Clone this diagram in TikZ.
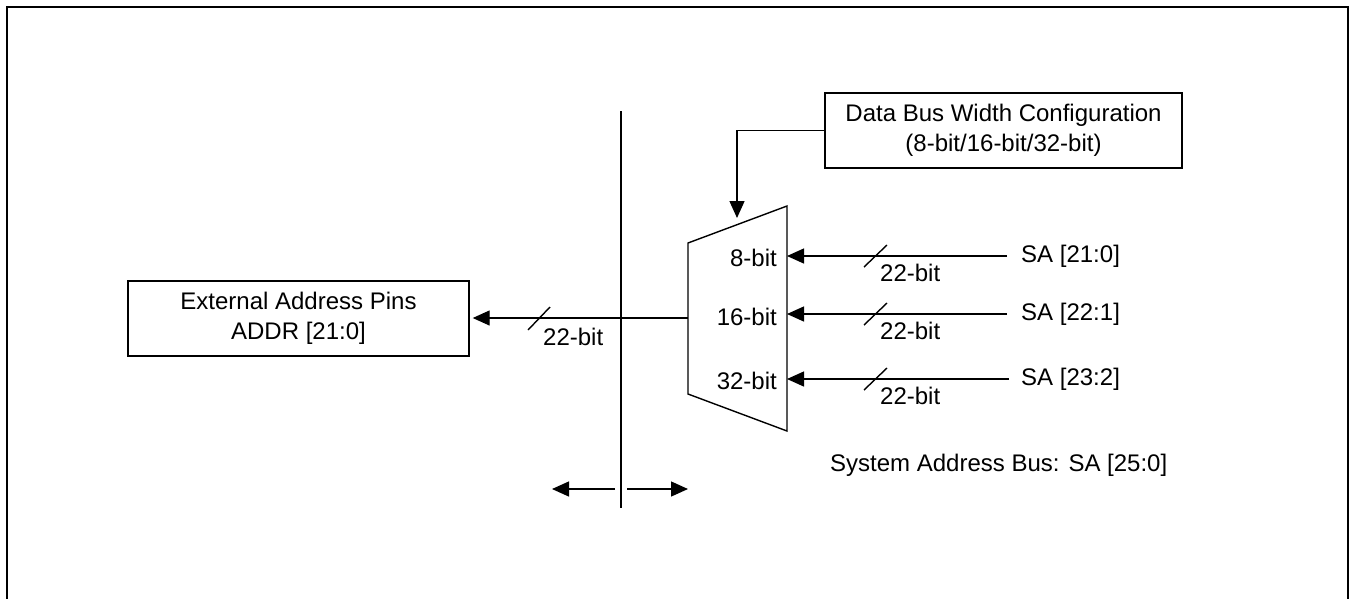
\documentclass[tikz,border=0pt]{standalone}
\usepackage{fontspec}
\setmainfont{Liberation Sans}
\usetikzlibrary{arrows.meta}
\begin{document}
\begin{tikzpicture}[x=1pt,y=-1pt,
  every node/.style={font=\fontsize{24}{30}\selectfont},
  ln/.style={line width=1.4pt},
  arr/.style={ln,-{Triangle[length=17pt,width=15pt]}},
  boxn/.style={draw,line width=1.4pt,rectangle,align=center,inner sep=0pt},
  lbl/.style={inner sep=0pt},
  slash/.style={line width=1.4pt}]
\useasboundingbox (0,0) rectangle (1351,598);
% outer frame
\draw[line width=2.5pt] (7,600) -- (7,7) -- (1348,7) -- (1348,600);
% boxes
\node[boxn,minimum width=341pt,minimum height=75pt] (ext) at (298.5,318.5) {External Address Pins\\ADDR [21:0]};
\node[boxn,minimum width=357pt,minimum height=75pt] (cfg) at (1003.5,130.5) {Data Bus Width Configuration\\(8-bit/16-bit/32-bit)};
% mux
\coordinate (mtl) at (688,243);
\coordinate (mtr) at (787,206);
\coordinate (mbr) at (787,431);
\coordinate (mbl) at (688,394);
\draw[ln] (mtl) -- (mtr) -- (mbr) -- (mbl) -- cycle;
\coordinate (mout) at (688,318);
\coordinate (in1) at (787,256);
\coordinate (in2) at (787,314);
\coordinate (in3) at (787,379);
\coordinate (msel) at (737,218);
\node[lbl,anchor=east] (l8) at (777,258) {8-bit};
\node[lbl,anchor=east] (l16) at (777,317) {16-bit};
\node[lbl,anchor=east] (l32) at (777,381) {32-bit};
% select arrow
\draw[arr] (cfg.west) -| (msel);
% output bus
\draw[arr,shorten >=3pt] (mout) -- (ext.east |- mout);
\draw[slash] (528,330) -- (550,307);
\node[lbl,anchor=west] (w0) at (543,337) {22-bit};
% vertical divider
\coordinate (vt) at (621,111);
\coordinate (vb) at (621,508);
\draw[ln] (vt) -- (vb);
\coordinate (al) at (615,489);
\coordinate (alt) at (552,489);
\coordinate (ar) at (627,489);
\coordinate (art) at (688,489);
\draw[arr] (al) -- (alt);
\draw[arr] (ar) -- (art);
% inputs
\node[lbl,anchor=west] (sa1) at (1021,256) {SA [21:0]};
\node[lbl,anchor=west] (sa2) at (1021,314) {SA [22:1]};
\node[lbl,anchor=west] (sa3) at (1021,379) {SA [23:2]};
\draw[arr] ([xshift=-14pt]sa1.west) -- (in1);
\draw[arr] ([xshift=-14pt]sa2.west) -- (in2);
\draw[arr] ([xshift=-12pt]sa3.west) -- (in3);
\foreach \y/\n in {256/w1,314/w2,379/w3}{
  \draw[slash] (864,\y+11) -- (887,\y-11);
  \node[lbl,anchor=west] (\n) at (880,\y+17) {22-bit};
}
\node[lbl,anchor=west] (sys) at (830,465) {System Address Bus: SA [25:0]};
\end{tikzpicture}
\end{document}
